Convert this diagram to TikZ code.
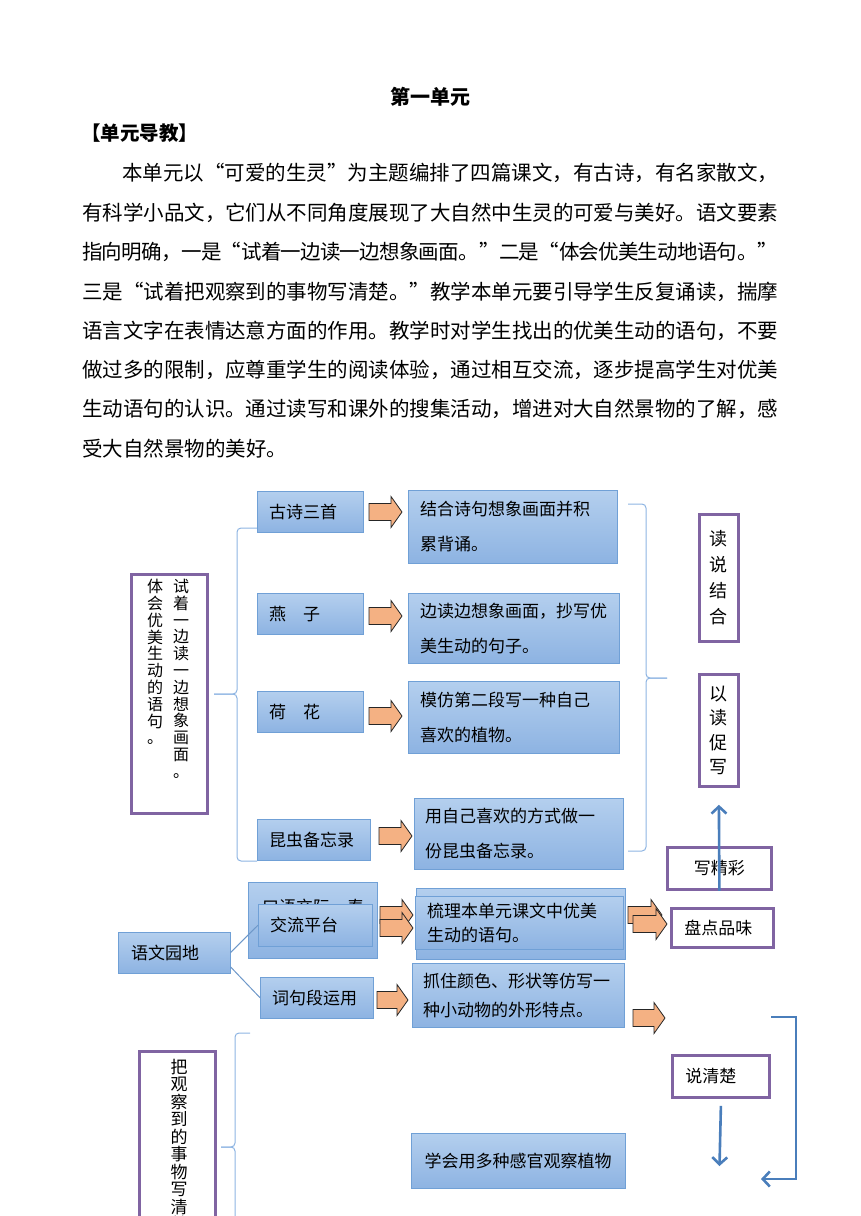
\documentclass[tikz,border=0pt]{standalone}
\usepackage{fontspec}
\setmainfont{Noto Sans CJK SC}
\usetikzlibrary{arrows.meta}
\definecolor{boxtop}{RGB}{180,207,238}
\definecolor{boxbot}{RGB}{141,179,226}
\definecolor{boxedge}{RGB}{112,160,214}
\definecolor{lilac}{RGB}{128,100,162}
\definecolor{peach}{RGB}{244,177,131}
\definecolor{flowblue}{RGB}{74,126,187}
\definecolor{bracecol}{RGB}{141,180,226}
\newcommand{\boxfont}{\fontsize{17}{35}\selectfont}
\newcommand{\jline}[2]{\parbox{#1}{\XeTeXlinebreaklocale "zh"\XeTeXlinebreakskip=0pt plus 3pt minus 1.5pt\parfillskip=0pt\relax #2}}
% block arrow: left x, right x, centre y
\newcommand{\blockarrow}[3]{\draw[fatarrow] (#1,#3-8.5) -- (#2-11,#3-8.5) -- (#2-11,#3-15.5) -- (#2,#3)
  -- (#2-11,#3+15.5) -- (#2-11,#3+8.5) -- (#1,#3+8.5) -- cycle;}
\tikzstyle{bodytext} = [anchor=west, inner sep=0pt, font=\fontsize{20.5}{24}\selectfont]
\tikzstyle{bluebox} = [draw=boxedge, top color=boxtop, bottom color=boxbot, anchor=north west,
                       inner xsep=12pt, inner ysep=0pt, align=left, font=\boxfont]
\tikzstyle{tagbox} = [draw=lilac, line width=2.8pt, fill=white, anchor=north west,
                      inner sep=0pt, align=center, font=\fontsize{17}{17}\selectfont]
\tikzstyle{vtext} = [anchor=north, inner sep=0pt, align=center]
\tikzstyle{fatarrow} = [draw=black!85, fill=peach, line width=0.8pt, line join=miter]
\tikzstyle{brace} = [draw=bracecol, line width=1pt, rounded corners=4pt]
\tikzstyle{stem} = [draw=flowblue!80, line width=1pt]
\tikzstyle{flow} = [draw=flowblue, line width=2.6pt, -{Straight Barb[length=7pt,width=15pt]}]
\begin{document}
\begin{tikzpicture}[x=1pt, y=-1pt]
\useasboundingbox (0,0) rectangle (860,1216);

% heading and lead text
\node[font=\fontsize{20}{24}\selectfont\bfseries] (title) at (430,97) {第一单元};
\node[bodytext, font=\fontsize{19.5}{24}\selectfont\bfseries] (guide) at (81,133) {【单元导教】};
\node[bodytext] (p1) at (122,173) {\jline{656pt}{本单元以“可爱的生灵”为主题编排了四篇课文，有古诗，有名家散文，}};
\node[bodytext] (p2) at (82,213) {\jline{696pt}{有科学小品文，它们从不同角度展现了大自然中生灵的可爱与美好。语文要素}};
\node[bodytext] (p3) at (82,252) {\jline{696pt}{指向明确，一是“试着一边读一边想象画面。”二是“体会优美生动地语句。”}};
\node[bodytext] (p4) at (82,292) {\jline{696pt}{三是“试着把观察到的事物写清楚。”教学本单元要引导学生反复诵读，揣摩}};
\node[bodytext] (p5) at (82,331) {\jline{696pt}{语言文字在表情达意方面的作用。教学时对学生找出的优美生动的语句，不要}};
\node[bodytext] (p6) at (82,370) {\jline{696pt}{做过多的限制，应尊重学生的阅读体验，通过相互交流，逐步提高学生对优美}};
\node[bodytext] (p7) at (82,409) {\jline{696pt}{生动语句的认识。通过读写和课外的搜集活动，增进对大自然景物的了解，感}};
\node[bodytext] (p8) at (82,449) {受大自然景物的美好。};

% braces
\draw[brace] (257,528) -- (237,528) -- (237,694) -- (214,694);
\draw[brace] (214,694) -- (237,694) -- (237,861) -- (257,861);
\draw[brace] (628,504) -- (646,504) -- (646,678) -- (667,678);
\draw[brace] (667,678) -- (646,678) -- (646,851) -- (628,851);
\draw[brace] (250,1033) -- (235,1033) -- (235,1147) -- (221,1147);
\draw[brace] (221,1147) -- (235,1147) -- (235,1260);

% reading part
\node[tagbox, minimum width=76, minimum height=239] (tryRead) at (130,573) {};
\node[vtext, font=\fontsize{16}{16.8}\selectfont] (colA) at (181,579) {试\\着\\一\\边\\读\\一\\边\\想\\象\\画\\面\\。};
\node[vtext, font=\fontsize{16}{16.8}\selectfont] (colB) at (155,579) {体\\会\\优\\美\\生\\动\\的\\语\\句\\。};

\node[bluebox, minimum height=41, text width=82] (gushi) at (257,491) {古诗三首};
\node[bluebox, minimum height=41, text width=82] (yanzi) at (257,593) {\mbox{燕\hspace{1em}子}};
\node[bluebox, minimum height=41, text width=82] (hehua) at (257,691) {\mbox{荷\hspace{1em}花}};
\node[bluebox, minimum height=41, text width=89] (kunchong) at (257,819) {昆虫备忘录};

\node[bluebox, minimum height=73, text width=185] (jiehe) at (408,490) {结合诗句想象画面并积\\累背诵。};
\node[bluebox, minimum height=70, text width=187] (bianDu) at (408,593) {边读边想象画面，抄写优\\美生动的句子。};
\node[bluebox, minimum height=72, text width=187] (mofang) at (408,681) {模仿第二段写一种自己\\喜欢的植物。};
\node[bluebox, minimum height=71, text width=187, inner xsep=11pt] (yong) at (414,798) {用自己喜欢的方式做一\\份昆虫备忘录。};

\blockarrow{369}{402}{512}
\blockarrow{369}{402}{616}
\blockarrow{369}{402}{716}
\blockarrow{379}{412}{836}

\node[tagbox, minimum width=39, minimum height=127, font=\fontsize{18}{26}\selectfont] (duShuo) at (698,513) {读\\说\\结\\合};
\node[tagbox, minimum width=39, minimum height=112, font=\fontsize{18}{24.5}\selectfont] (yiDu) at (698,673) {以\\读\\促\\写};
\node[tagbox, minimum width=104, minimum height=42] (xieJing) at (666,846) {写精彩};
\draw[flow] (xieJing.south) -- ([yshift=-17pt]yiDu.south);

% garden part
\node[bluebox, minimum height=41, text width=86, inner xsep=13pt] (yuwen) at (118,932) {语文园地};
\node[bluebox, text width=101, inner xsep=14pt, text height=31pt, text depth=45pt] (kouyu) at (248,882) {\mbox{口语交际\hspace{1em}春}};
\node[bluebox, minimum height=42, text width=90] (jiaoliu) at (258,904) {交流平台};
\node[bluebox, minimum height=41, text width=89] (cijuduan) at (260,977) {词句段运用};
\draw[stem] (yuwen.east) -- (jiaoliu.west);
\draw[stem] ([yshift=-14pt]yuwen.east) -- (cijuduan.west);

\node[bluebox, minimum height=71, text width=185] (shuliBack) at (416,888) {};
\node[bluebox, minimum height=53, text width=184, font=\fontsize{17}{24}\selectfont] (shuli) at (415,896) {梳理本单元课文中优美\\生动的语句。};
\node[bluebox, minimum height=64, text width=190, inner xsep=11pt, font=\fontsize{17}{29}\selectfont] (zhuazhu) at (412,963) {抓住颜色、形状等仿写一\\种小动物的外形特点。};

\blockarrow{380}{413}{915}
\blockarrow{380}{413}{928}
\blockarrow{377}{408}{1000}
\blockarrow{628}{662}{915}
\blockarrow{633}{667}{924}
\blockarrow{633}{665}{1018}

\node[tagbox, minimum height=39, text width=76, inner xsep=13pt, align=left] (panDian) at (670,907) {盘点品味};

% observing part
\node[tagbox, minimum width=76, minimum height=260] (writeClear) at (138,1050) {};
\node[vtext, font=\fontsize{17}{17.5}\selectfont] (colC) at (179,1059) {把\\观\\察\\到\\的\\事\\物\\写\\清\\楚};
\node[tagbox, minimum height=42, text width=71, inner xsep=13pt, align=left] (shuoQing) at (671,1054) {说清楚};
\node[bluebox, minimum height=55, text width=190, align=center] (xuehui) at (411,1133) {学会用多种感官观察植物};

\coordinate (downEnd) at (719.5,1166);
\draw[flow] ([yshift=-7pt]shuoQing.south) -- (downEnd);
\coordinate (brStart) at (771,1017);
\coordinate (brEnd) at (761,1179);
\draw[flow] (brStart) -- (796,1017) -- (796,1179) -- (brEnd);
\end{tikzpicture}
\end{document}
